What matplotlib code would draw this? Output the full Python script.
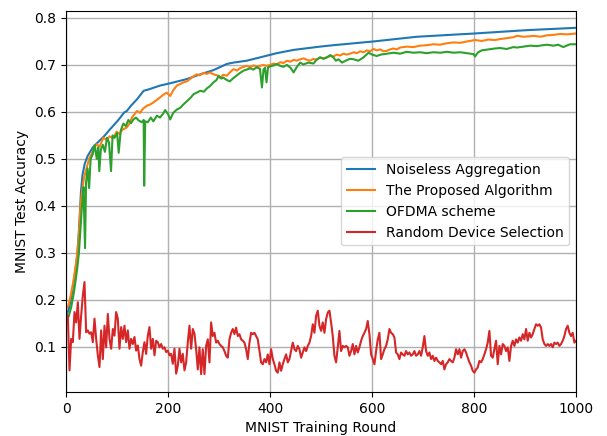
import numpy as np
import matplotlib
matplotlib.use("Agg")
import matplotlib.pyplot as plt

# ---------------- data ----------------
blue_rounds = [0, 5, 10, 15, 19, 22, 25.5, 29, 32, 36.5, 42, 52, 61, 75, 86, 101, 114, 119,
               127, 139, 152, 162, 184, 204, 237, 263, 289, 315, 328, 354, 380, 413, 446,
               498, 524, 603, 688, 802, 903, 1000]
blue_vals = [0.165, 0.18, 0.205, 0.24, 0.27, 0.30, 0.355, 0.43, 0.466, 0.49, 0.506, 0.524,
             0.534, 0.549, 0.563, 0.581, 0.599, 0.602, 0.613, 0.627, 0.645, 0.648, 0.656,
             0.661, 0.670, 0.680, 0.689, 0.702, 0.705, 0.709, 0.716, 0.725, 0.732, 0.739,
             0.742, 0.750, 0.760, 0.767, 0.774, 0.779]

orange_rounds = [0, 5, 10, 15, 19, 22, 25, 28, 31, 35, 40, 45, 52, 59, 66, 73, 80, 85, 92,
                 99, 105, 110, 119, 124, 129, 134, 139, 145, 150, 158, 165, 171, 178, 184,
                 190, 197, 204, 210, 217, 225, 230, 237, 245, 250, 256, 262, 269, 276, 282,
                 289, 296, 302, 308, 315, 321, 328, 335, 341, 348, 354, 361, 367, 374, 380,
                 387, 393, 400, 407, 413, 420, 426, 433, 440, 446, 452, 459, 466, 472, 478,
                 485, 491, 498, 504, 511, 518, 524, 531, 537, 544, 550, 557, 564, 570, 577,
                 583, 590, 596, 603, 609, 616, 622, 629, 635, 642, 648, 655, 668, 681, 694,
                 707, 720, 733, 746, 760, 773, 786, 802, 815, 828, 841, 851, 864, 877, 884,
                 897, 910, 917, 930, 943, 956, 969, 982, 1000]
orange_vals = [0.18, 0.19, 0.215, 0.245, 0.275, 0.30, 0.34, 0.40, 0.43, 0.46, 0.48, 0.50,
               0.515, 0.531, 0.527, 0.545, 0.540, 0.548, 0.544, 0.558, 0.553, 0.562, 0.567,
               0.575, 0.588, 0.595, 0.602, 0.598, 0.606, 0.613, 0.616, 0.620, 0.626, 0.631,
               0.636, 0.641, 0.634, 0.646, 0.656, 0.660, 0.663, 0.665, 0.672, 0.676, 0.680,
               0.678, 0.683, 0.681, 0.684, 0.680, 0.678, 0.673, 0.679, 0.677, 0.684, 0.691,
               0.688, 0.693, 0.696, 0.698, 0.695, 0.699, 0.697, 0.698, 0.700, 0.698, 0.700,
               0.703, 0.701, 0.706, 0.704, 0.709, 0.707, 0.711, 0.709, 0.712, 0.714, 0.711,
               0.709, 0.713, 0.711, 0.716, 0.714, 0.716, 0.719, 0.718, 0.722, 0.720, 0.724,
               0.722, 0.724, 0.727, 0.725, 0.729, 0.727, 0.731, 0.729, 0.734, 0.731, 0.733,
               0.729, 0.730, 0.733, 0.735, 0.733, 0.737, 0.739, 0.738, 0.741, 0.742, 0.744,
               0.743, 0.746, 0.748, 0.747, 0.750, 0.753, 0.751, 0.754, 0.753, 0.755, 0.757,
               0.759, 0.762, 0.760, 0.761, 0.762, 0.760, 0.763, 0.764, 0.766, 0.765, 0.767]

green_rounds = [0, 5, 10, 15, 19, 22, 25, 28, 31, 34,
                37, 39, 42, 45, 48, 52, 56, 60, 63, 65,
                68, 72, 76, 80, 84, 88, 91, 95, 100, 103,
                107, 112, 117, 122, 127, 132, 137, 142, 148, 152,
                153, 155, 160, 166, 171, 178, 184, 190, 194, 200,
                204, 210, 217, 224, 230, 237, 244, 250, 256, 263,
                270, 276, 282, 289, 295, 299, 304, 308, 315, 321,
                328, 334, 341, 348, 354, 361, 367, 374, 380, 384,
                387, 390, 393, 396, 400, 407, 413, 420, 426, 433,
                440, 446, 452, 459, 465, 475, 485, 491, 498, 505,
                511, 518, 524, 529, 534, 541, 550, 557, 564, 573,
                583, 593, 600, 609, 617, 629, 642, 655, 668, 681,
                694, 707, 720, 734, 747, 760, 773, 786, 799, 802,
                808, 815, 828, 841, 851, 864, 877, 884, 897, 910,
                923, 935, 943, 956, 965, 975, 988, 1000]
green_vals = [0.156, 0.165, 0.185, 0.215, 0.245, 0.27, 0.30, 0.35, 0.40, 0.44,
              0.31, 0.45, 0.48, 0.438, 0.50, 0.51, 0.53, 0.50, 0.525, 0.474,
              0.52, 0.53, 0.515, 0.545, 0.535, 0.474, 0.55, 0.545, 0.555, 0.513,
              0.56, 0.575, 0.57, 0.583, 0.576, 0.584, 0.588, 0.582, 0.578, 0.583,
              0.443, 0.580, 0.578, 0.588, 0.580, 0.592, 0.588, 0.596, 0.604, 0.595,
              0.584, 0.598, 0.605, 0.609, 0.616, 0.623, 0.630, 0.638, 0.641, 0.645,
              0.643, 0.650, 0.655, 0.663, 0.668, 0.677, 0.671, 0.673, 0.668, 0.665,
              0.672, 0.677, 0.683, 0.688, 0.690, 0.693, 0.690, 0.695, 0.692, 0.652,
              0.690, 0.694, 0.663, 0.695, 0.697, 0.699, 0.702, 0.698, 0.696, 0.700,
              0.694, 0.684, 0.695, 0.705, 0.701, 0.705, 0.703, 0.711, 0.716, 0.713,
              0.716, 0.721, 0.716, 0.709, 0.712, 0.705, 0.710, 0.713, 0.712, 0.709,
              0.716, 0.726, 0.722, 0.719, 0.722, 0.724, 0.726, 0.724, 0.728, 0.726,
              0.727, 0.725, 0.727, 0.726, 0.728, 0.726, 0.727, 0.725, 0.723, 0.718,
              0.727, 0.731, 0.733, 0.735, 0.736, 0.734, 0.738, 0.737, 0.739, 0.741,
              0.740, 0.742, 0.743, 0.741, 0.743, 0.738, 0.744, 0.744]

red_vals = [
    # rounds 0 - 254
    0.165, 0.167, 0.050, 0.117, 0.110, 0.174, 0.152, 0.195, 0.117, 0.167, 0.209, 0.238,
    0.131, 0.135, 0.128, 0.131, 0.110, 0.160, 0.117, 0.082, 0.057, 0.135, 0.074, 0.145,
    0.099, 0.170, 0.117, 0.096, 0.138, 0.124, 0.174, 0.160, 0.096, 0.142, 0.117, 0.145,
    0.110, 0.135, 0.096, 0.117, 0.106, 0.121, 0.092, 0.103, 0.074, 0.060, 0.089, 0.110,
    0.085, 0.124, 0.142, 0.096, 0.117, 0.082, 0.113, 0.110, 0.099, 0.106, 0.096, 0.099,
    0.089, 0.092, 0.082, 0.085, 0.064, 0.096, 0.043, 0.060, 0.096, 0.067, 0.085, 0.050,
    0.067, 0.110, 0.145, 0.096, 0.138, 0.128,
    # rounds 256 - 505
    0.095, 0.052, 0.099, 0.042, 0.095, 0.042, 0.102, 0.116, 0.067, 0.152, 0.123, 0.130,
    0.109, 0.113, 0.106, 0.102, 0.099, 0.091, 0.081, 0.077, 0.116, 0.130, 0.138, 0.127,
    0.141, 0.123, 0.127, 0.116, 0.113, 0.109, 0.095, 0.074, 0.109, 0.130, 0.127, 0.130,
    0.123, 0.116, 0.091, 0.067, 0.063, 0.074, 0.067, 0.084, 0.063, 0.095, 0.074, 0.063,
    0.049, 0.045, 0.067, 0.049, 0.063, 0.074, 0.084, 0.067, 0.074, 0.091, 0.109, 0.095,
    0.091, 0.102, 0.095, 0.077, 0.088, 0.099, 0.091, 0.102, 0.109, 0.123, 0.148, 0.130,
    0.166, 0.177, 0.145, 0.134, 0.152,
    # rounds 507 - 756
    0.130, 0.159, 0.173, 0.177, 0.152, 0.123, 0.081, 0.067, 0.099, 0.134, 0.091, 0.102,
    0.099, 0.102, 0.099, 0.081, 0.091, 0.106, 0.084, 0.102, 0.088, 0.099, 0.113, 0.123,
    0.130, 0.138, 0.155, 0.127, 0.084, 0.074, 0.063, 0.091, 0.116, 0.130, 0.074, 0.084,
    0.095, 0.102, 0.116, 0.138, 0.130, 0.127, 0.120, 0.088, 0.084, 0.074, 0.088, 0.084,
    0.081, 0.091, 0.084, 0.088, 0.081, 0.084, 0.091, 0.081, 0.084, 0.091, 0.081, 0.099,
    0.123, 0.091, 0.081, 0.088, 0.074, 0.081, 0.070, 0.077, 0.070, 0.067, 0.063, 0.070,
    0.052, 0.063, 0.067, 0.074, 0.070,
    # rounds 758 - 1000
    0.067, 0.077, 0.095, 0.084, 0.095, 0.077, 0.091, 0.095, 0.088, 0.077, 0.067, 0.060,
    0.049, 0.045, 0.052, 0.056, 0.070, 0.067, 0.074, 0.084, 0.095, 0.109, 0.134, 0.081,
    0.077, 0.095, 0.113, 0.063, 0.102, 0.084, 0.106, 0.102, 0.091, 0.099, 0.070, 0.102,
    0.113, 0.102, 0.116, 0.109, 0.120, 0.113, 0.127, 0.116, 0.138, 0.113, 0.130, 0.120,
    0.127, 0.138, 0.148, 0.145, 0.148, 0.141, 0.116, 0.106, 0.102, 0.106, 0.102, 0.106,
    0.099, 0.109, 0.106, 0.109, 0.102, 0.106, 0.113, 0.123, 0.138, 0.145, 0.130, 0.123,
    0.130, 0.109, 0.113,
]
red_rounds = np.linspace(0, 1000, len(red_vals))

labels = ["Noiseless Aggregation", "The Proposed Algorithm", "OFDMA scheme",
          "Random Device Selection"]
x_ticks = [0, 200, 400, 600, 800, 1000]
y_ticks = [0.1, 0.2, 0.3, 0.4, 0.5, 0.6, 0.7, 0.8]

# ---------------- plot ----------------
fig = plt.figure(figsize=(6.07, 4.36), dpi=100)
ax = fig.add_axes([0.109, 0.101, 0.840, 0.874])

ax.plot(blue_rounds, blue_vals, color="#1f77b4", lw=1.5, label=labels[0])
ax.plot(orange_rounds, orange_vals, color="#ff7f0e", lw=1.5, label=labels[1])
ax.plot(green_rounds, green_vals, color="#2ca02c", lw=1.5, label=labels[2])
ax.plot(red_rounds, red_vals, color="#d62728", lw=1.5, label=labels[3])

ax.set_xlim(0, 1000)
ax.set_ylim(0.004, 0.815)
ax.set_xticks(x_ticks)
ax.set_yticks(y_ticks)
ax.grid(True, color="#b0b0b0", lw=1.0)
ax.set_xlabel("MNIST Training Round")
ax.set_ylabel("MNIST Test Accuracy")
ax.legend(loc="center right")

fig.savefig("out.png", dpi=100)
